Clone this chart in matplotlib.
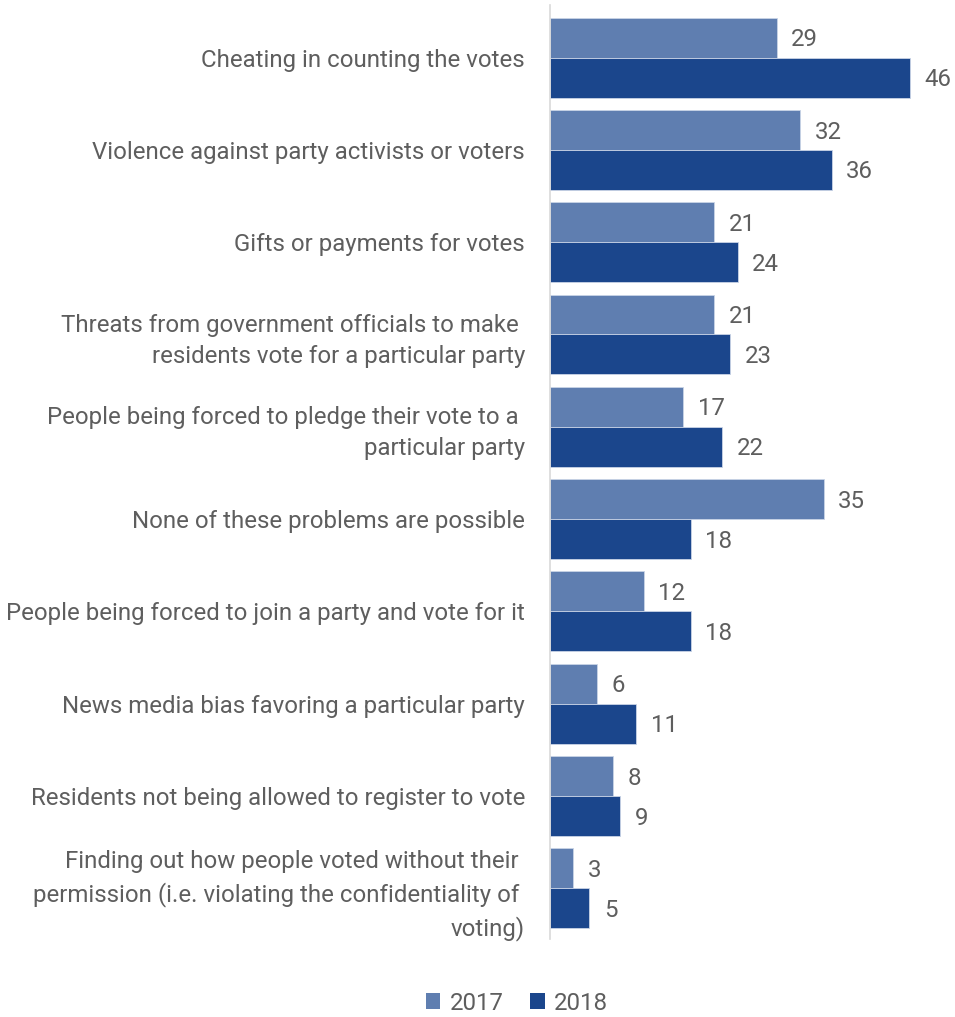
import matplotlib
matplotlib.use("Agg")
import matplotlib.pyplot as plt
import numpy as np
from matplotlib.patches import Patch

categories = [
    "Cheating in counting the votes",
    "Violence against party activists or voters",
    "Gifts or payments for votes",
    "Threats from government officials to make \nresidents vote for a particular party",
    "People being forced to pledge their vote to a \nparticular party",
    "None of these problems are possible",
    "People being forced to join a party and vote for it",
    "News media bias favoring a particular party",
    "Residents not being allowed to register to vote",
    "Finding out how people voted without their \npermission (i.e. violating the confidentiality of \nvoting)",
]
values_2017 = [29, 32, 21, 21, 17, 35, 12, 6, 8, 3]
values_2018 = [46, 36, 24, 23, 22, 18, 18, 11, 9, 5]
series_labels = ["2017", "2018"]

color_2017 = "#5f7eb0"
color_2018 = "#1b468c"
text_color = "#5e5e5e"

plt.rcParams["font.family"] = ["Roboto", "DejaVu Sans"]
fs = 17.3

fig = plt.figure(figsize=(9.55, 10.17), dpi=100)
ax = fig.add_axes([550 / 955, 1 - 939 / 1017, (941 - 550) / 955, (939 - 5) / 1017])

y = np.arange(len(categories))
bh = 0.433
ax.barh(y - bh / 2, values_2017, height=bh, color=color_2017,
        edgecolor="#c9d4e6", linewidth=0.6)
ax.barh(y + bh / 2, values_2018, height=bh, color=color_2018,
        edgecolor="#c9d4e6", linewidth=0.6)

for yi, v in zip(y - bh / 2, values_2017):
    ax.annotate(str(v), (v, yi), xytext=(10.5, -1.5), textcoords="offset points",
                ha="left", va="center", fontsize=fs, color=text_color)
for yi, v in zip(y + bh / 2, values_2018):
    ax.annotate(str(v), (v, yi), xytext=(10.5, -1.5), textcoords="offset points",
                ha="left", va="center", fontsize=fs, color=text_color)

ax.set_xlim(0, 50)
ax.set_ylim(9.55, -0.57)
ax.set_yticks(y)
ax.set_yticklabels(categories, fontsize=fs, color=text_color, linespacing=1.45)
ax.tick_params(axis="y", length=0, pad=18)
ax.set_xticks([])
for side in ["top", "right", "bottom"]:
    ax.spines[side].set_visible(False)
ax.spines["left"].set_color("#d9d9d9")
ax.spines["left"].set_linewidth(1.2)

handles = [Patch(facecolor=color_2017), Patch(facecolor=color_2018)]
fig.legend(handles, series_labels, loc="center", bbox_to_anchor=(517 / 955, 1 - 1003 / 1017),
           ncol=2, frameon=False, handlelength=0.6, handleheight=0.6,
           handletextpad=0.4, columnspacing=1.1,
           prop=dict(size=fs), labelcolor=text_color)

fig.savefig("out.png", dpi=100)
